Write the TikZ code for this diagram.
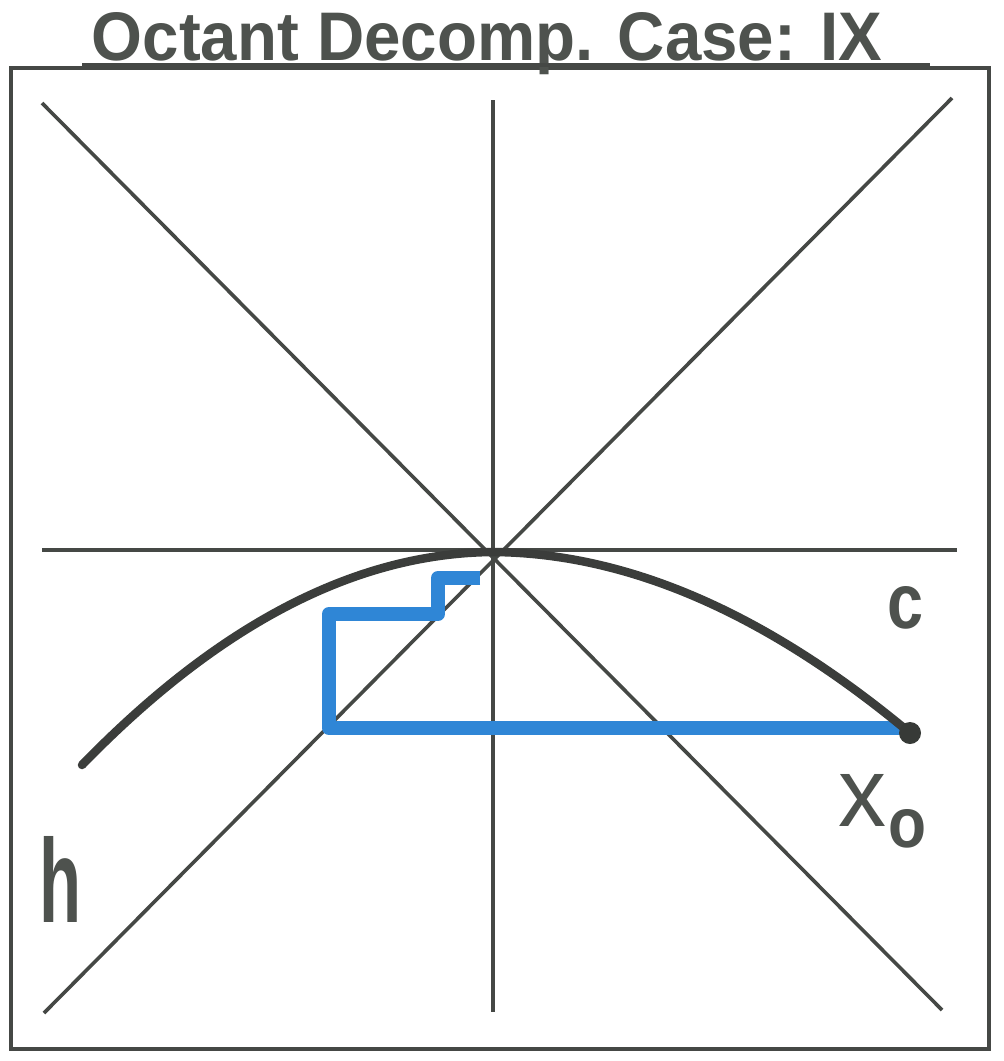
\documentclass[tikz,border=0pt]{standalone}
\usepackage{fontspec}
\setmainfont{Liberation Sans}
\usepackage{graphicx}
\definecolor{ink}{HTML}{454845}
\definecolor{pen}{HTML}{2F86D6}
\definecolor{txt}{HTML}{4E524E}
\begin{document}
\begin{tikzpicture}[x=1pt,y=-1pt,
  axis/.style={draw=ink,line width=3.6pt},
  framebox/.style={draw=ink,line width=4pt},
  curvepen/.style={draw=ink!85!black,line width=8.5pt,line cap=round},
  bluepen/.style={draw=pen,line width=14pt,line join=round},
  lbl/.style={inner sep=0pt,text=txt}]
\useasboundingbox (0,0) rectangle (1004,1061);
% frame
\coordinate (fnw) at (11,68);
\coordinate (fse) at (989,1049);
\draw[framebox] (fnw) rectangle (fse);
% title
\node[lbl,anchor=base] (title) at (487,60) {\resizebox{790pt}{48pt}{\bfseries Octant Decomp. Case: IX}};
\coordinate (ul1) at (82,65);
\coordinate (ul2) at (930,65);
\draw[draw=ink,line width=3.5pt] (ul1) -- (ul2);
% axes
\coordinate (O) at (493,552);
\coordinate (vt) at (493,100);
\coordinate (vb) at (493,1012);
\coordinate (hl) at (42,550);
\coordinate (hr) at (957,550);
\coordinate (d1a) at (42,103);
\coordinate (d1b) at (942,1010);
\coordinate (d2a) at (952,98);
\coordinate (d2b) at (44,1013);
\draw[axis] (vt) -- (vb);
\draw[axis] (hl) -- (hr);
\draw[axis] (d1a) -- (d1b);
\draw[axis] (d2a) -- (d2b);
% blue staircase
\coordinate (b0) at (480,578);
\coordinate (b1) at (438,578);
\coordinate (b2) at (438,614);
\coordinate (b3) at (329,614);
\coordinate (b4) at (329,728);
\coordinate (b5) at (900,728);
\draw[bluepen] (b0) -- (b1) -- (b2) -- (b3) -- (b4) -- (b5);
% curve
\coordinate (cL) at (82,765);
\coordinate (cR) at (910,733);
\draw[curvepen] (cL) .. controls (219,624) and (356,553) .. (O)
  .. controls (633,553) and (772,618) .. (cR);
\fill[ink!80!black] (cR) circle (11pt);
% labels
\node[lbl] (c) at (906,608) {\resizebox{36pt}{42pt}{\bfseries c}};
\node[lbl] (x) at (862,800) {\resizebox{48pt}{52pt}{x}};
\node[lbl] (o) at (908,829) {\resizebox{38pt}{38pt}{\bfseries o}};
\node[lbl] (h) at (61,879) {\resizebox{42pt}{86pt}{\bfseries h}};
\end{tikzpicture}
\end{document}
